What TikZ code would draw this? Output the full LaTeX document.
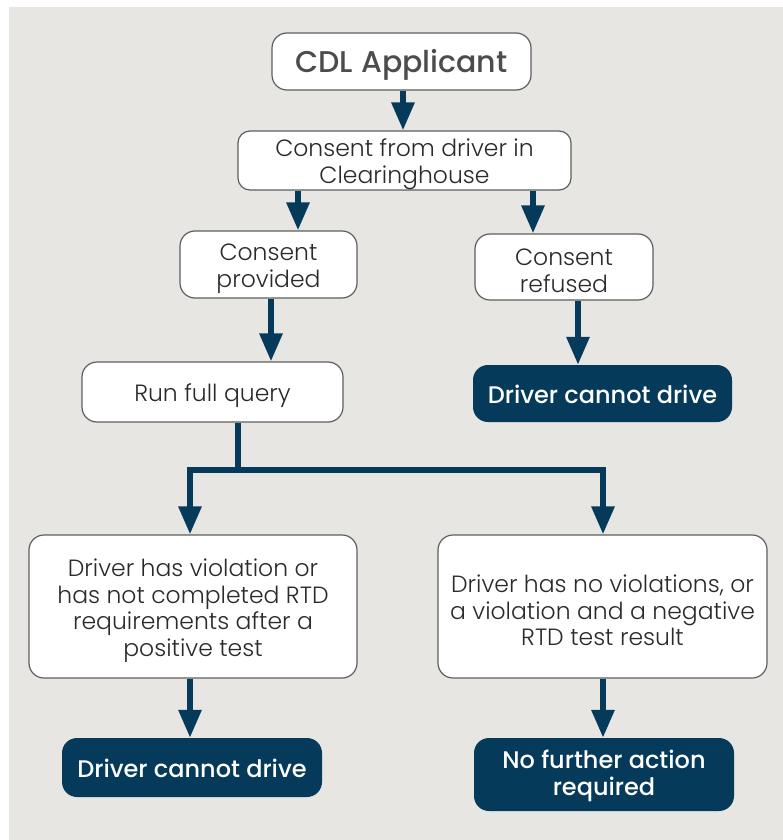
\documentclass[tikz,border=0pt]{standalone}
\usepackage{fontspec}
\setmainfont{Poppins}[UprightFont=* Light, BoldFont=* Medium]
\usetikzlibrary{arrows.meta}
\definecolor{bg}{HTML}{E7E6E3}
\definecolor{navy}{HTML}{053A5A}
\definecolor{boxline}{HTML}{5E5E5E}
\definecolor{txt}{HTML}{2A2A2A}
\begin{document}
\begin{tikzpicture}[x=1pt,y=-1pt,
  wbox/.style={draw=boxline,line width=1.2pt,fill=white,rounded corners=15pt,inner sep=0pt},
  wlab/.style={align=center,inner sep=0pt,text=txt,font=\fontsize{23.5}{26.5}\selectfont,yshift=-4pt},
  dbox/.style={fill=navy,rounded corners=15pt,inner sep=0pt},
  dlab/.style={align=center,inner sep=0pt,text=white,font=\fontsize{24}{27}\selectfont\bfseries,yshift=-1pt},
  clab/.style={inner sep=0pt,text=black!70,font=\fontsize{30}{32}\selectfont\bfseries,yshift=-3pt},
  conn/.style={draw=navy,line width=6pt},
  arr/.style={conn,-{Triangle[width=22pt,length=28pt]}}]
\useasboundingbox (0,0) rectangle (783,840);
\fill[bg] (9,7) rectangle (783,840);
\node[wbox,minimum width=259pt,minimum height=57pt,label={[clab]center:CDL Applicant}] (cdl) at (401.5,61.5) {};
\node[wbox,minimum width=333pt,minimum height=59pt,rounded corners=12pt,label={[wlab]center:{Consent from driver in\\Clearinghouse}}] (cons) at (404.5,160.5) {};
\node[wbox,minimum width=177pt,minimum height=67pt,label={[wlab]center:{Consent\\provided}}] (prov) at (268.5,264.5) {};
\node[wbox,minimum width=178pt,minimum height=66pt,label={[wlab]center:{Consent\\refused}}] (ref) at (564,267) {};
\node[wbox,minimum width=261pt,minimum height=60pt,label={[wlab]center:{Run full query}}] (run) at (212.5,392) {};
\node[dbox,minimum width=259pt,minimum height=57pt,label={[dlab]center:{Driver cannot drive}}] (dcd1) at (602.5,393.5) {};
\node[wbox,minimum width=328pt,minimum height=143pt,label={[wlab]center:{Driver has violation or\\has not completed RTD\\requirements after a\\positive test}}] (viol) at (193,606.5) {};
\node[wbox,minimum width=329pt,minimum height=143pt,label={[wlab]center:{Driver has no violations, or\\a violation and a negative\\RTD test result}}] (nov) at (602.5,606.5) {};
\node[dbox,minimum width=260pt,minimum height=59pt,label={[dlab]center:{Driver cannot drive}}] (dcd2) at (192,767.5) {};
\node[dbox,minimum width=260pt,minimum height=73pt,label={[dlab]center:{No further action\\required}}] (nfa) at (604,774.5) {};
\coordinate (x1) at (403,0);
\coordinate (x2) at (298,0);
\coordinate (x3) at (533,0);
\coordinate (x4) at (271,0);
\coordinate (x5) at (578,0);
\coordinate (xl) at (190,0);
\coordinate (xr) at (603,0);
\coordinate (j) at (238,470);
\draw[arr] (cdl.south -| x1) -- (cons.north -| x1);
\draw[arr] (cons.south -| x2) -- (prov.north -| x2);
\draw[arr] (cons.south -| x3) -- (ref.north -| x3);
\draw[arr] (prov.south -| x4) -- (run.north -| x4);
\draw[arr] (ref.south -| x5) -- (dcd1.north -| x5);
\draw[conn] (run.south -| j) -- (j);
\draw[arr,line join=miter] (j) -| (viol.north -| xl);
\draw[arr,line join=miter] (j) -| (nov.north -| xr);
\draw[arr] (viol.south -| xl) -- (dcd2.north -| xl);
\draw[arr] (nov.south -| xr) -- (nfa.north -| xr);
\end{tikzpicture}
\end{document}
